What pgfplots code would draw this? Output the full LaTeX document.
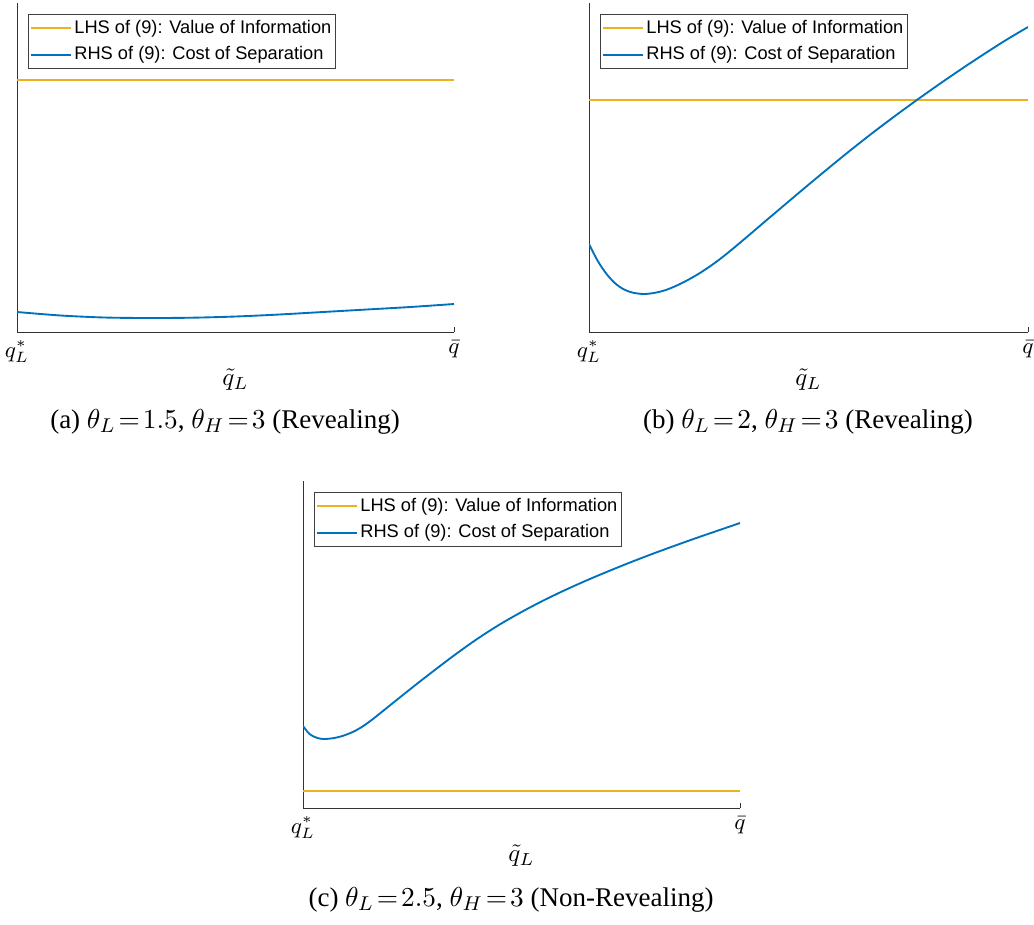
\documentclass[border=0pt]{standalone}
\usepackage[no-math]{fontspec}
\setmainfont{Liberation Serif}
\newfontfamily\legfont{Liberation Sans}
\usepackage{pgfplots}
\pgfplotsset{compat=1.18}

\definecolor{mYellow}{HTML}{EDB120}
\definecolor{mBlue}{HTML}{0072BD}

% one panel: x runs q_L^* .. qbar, y is only shape (no scale shown)
\pgfplotsset{panel/.style={
    scale only axis,
    axis lines*=left,
    axis line style={black!80, line width=0.4pt, -},
    xmin=0, xmax=1, ymin=0, ymax=329,
    xtick={0,1}, xticklabels={$q_L^*$, $\bar q$},
    ytick=\empty,
    tick align=inside,
    major tick length=2pt,
    tick style={black!80, line width=0.4pt},
    tick label style={font=\fontsize{9}{11}\selectfont},
    xlabel={$\tilde q_L$},
    xlabel style={font=\fontsize{10}{12}\selectfont, yshift=4pt},
    legend style={at={(0,1)}, anchor=north west, xshift=4.4pt, yshift=-4.4pt,
        draw=black!75, line width=0.4pt, inner xsep=0.8pt, inner ysep=0.3pt,
        row sep=0pt,
        nodes={inner xsep=0.8pt, inner ysep=1.6pt, text height=5.6pt, text depth=1.7pt},
        font=\legfont\fontsize{7.3}{8.5}\selectfont},
    legend cell align=left,
    legend image code/.code={\draw[#1] (0pt,0pt) -- (16pt,0pt);},
    every axis plot/.append style={line width=0.75pt},
}}

\begin{document}
\begin{tikzpicture}
\useasboundingbox (0,0) rectangle (413.6pt,-369.6pt);

% (a)
\begin{axis}[panel, at={(6.8pt,-132.8pt)}, anchor=south west,
    width=174.8pt, height=131.6pt]
\addplot[mYellow] coordinates {(0,252) (1,252)};
\addlegendentry{LHS of (9): Value of Information}
\addplot[mBlue, smooth] coordinates {
    (0,20) (0.1,16.5) (0.2,14.5) (0.3,14) (0.4,14.3) (0.5,15.5)
    (0.6,17.5) (0.7,20) (0.8,22.5) (0.9,25) (1,28)};
\addlegendentry{RHS of (9): Cost of Separation}
\end{axis}
\node[anchor=base, font=\fontsize{10.8}{12}\selectfont] at (90pt,-171.2pt)
    {(a) $\theta_L\!=\!1.5$, $\theta_H\!=\!3$ (Revealing)};

% (b)
\begin{axis}[panel, at={(235.6pt,-132.8pt)}, anchor=south west,
    width=175.6pt, height=131.6pt]
\addplot[mYellow] coordinates {(0,232) (1,232)};
\addlegendentry{LHS of (9): Value of Information}
\addplot[mBlue, smooth] coordinates {
    (0,88) (0.02,71) (0.04,58) (0.06,48.5) (0.08,42.5) (0.1,39.3)
    (0.125,38) (0.15,39.2) (0.175,42) (0.2,46.5) (0.225,52) (0.25,58.3)
    (0.275,65.5) (0.3,73.5) (0.325,82.3) (0.35,91.5) (0.375,100.8)
    (0.4,110.2) (0.45,128.8) (0.5,147.3) (0.55,165.5) (0.6,183.3)
    (0.65,200.5) (0.7,217) (0.75,233) (0.8,248.5) (0.85,263.5)
    (0.9,278) (0.95,292) (1,305)};
\addlegendentry{RHS of (9): Cost of Separation}
\end{axis}
\node[anchor=base, font=\fontsize{10.8}{12}\selectfont] at (323.2pt,-171.2pt)
    {(b) $\theta_L\!=\!2$, $\theta_H\!=\!3$ (Revealing)};

% (c)
\begin{axis}[panel, at={(121.2pt,-323.2pt)}, anchor=south west,
    width=174.8pt, height=130.8pt, ymax=327]
\addplot[mYellow] coordinates {(0,17) (1,17)};
\addlegendentry{LHS of (9): Value of Information}
\addplot[mBlue, smooth] coordinates {
    (0,82) (0.015,74) (0.03,70.5) (0.046,69) (0.07,69.9) (0.09,72)
    (0.11,75.3) (0.124,78.3) (0.14,82.6) (0.16,89) (0.18,96) (0.2,103)
    (0.25,120.5) (0.3,137.5) (0.35,154) (0.4,169.5) (0.45,183.5)
    (0.5,196) (0.55,207.5) (0.6,218) (0.65,227.8) (0.7,237) (0.75,245.8)
    (0.8,254.2) (0.85,262.2) (0.9,270) (0.95,277.5) (1,285)};
\addlegendentry{RHS of (9): Cost of Separation}
\end{axis}
\node[anchor=base, font=\fontsize{10.8}{12}\selectfont] at (204.4pt,-362.4pt)
    {(c) $\theta_L\!=\!2.5$, $\theta_H\!=\!3$ (Non-Revealing)};
\end{tikzpicture}
\end{document}
